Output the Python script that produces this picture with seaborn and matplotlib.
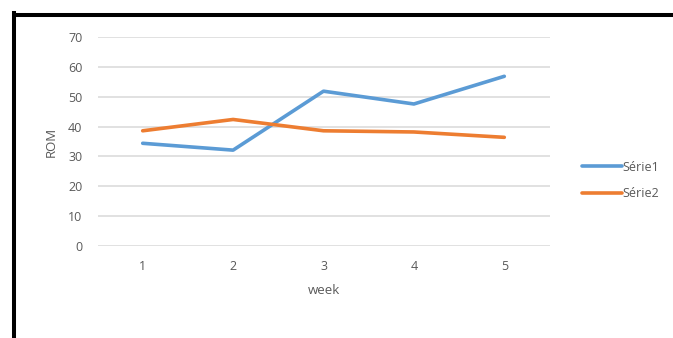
import matplotlib
matplotlib.use("Agg")
import matplotlib.pyplot as plt
from matplotlib.lines import Line2D
import seaborn as sns
import pandas as pd

weeks = [1, 2, 3, 4, 5]
serie1 = [34.4, 32.1, 51.9, 47.6, 56.9]
serie2 = [38.6, 42.4, 38.6, 38.2, 36.4]
series_names = ["Série1", "Série2"]
y_ticks = [0, 10, 20, 30, 40, 50, 60, 70]

df = pd.DataFrame({
    "week": weeks * 2,
    "ROM": serie1 + serie2,
    "serie": [series_names[0]] * 5 + [series_names[1]] * 5,
})

sns.set_theme(style="white")
plt.rcParams["font.family"] = ["Open Sans", "DejaVu Sans"]

W, H = 673, 338
fig = plt.figure(figsize=(W / 100, H / 100), dpi=100)
ax = fig.add_axes([97.5 / W, 1 - 245.7 / H, (549.5 - 97.5) / W, (245.7 - 37.3) / H])

sns.lineplot(data=df, x="week", y="ROM", hue="serie",
             palette=["#5B9BD5", "#ED7D31"], linewidth=2.6, ax=ax, legend=False)

ax.set_xlim(0.5, 5.5)
ax.set_ylim(0, 70)
ax.set_yticks(y_ticks)
ax.set_xticks(weeks)
ax.grid(axis="y", color="#D9D9D9", linewidth=1.1)
ax.set_axisbelow(True)
for s in ax.spines.values():
    s.set_visible(False)
ax.tick_params(axis="both", length=0, labelsize=9, labelcolor="#595959")
ax.tick_params(axis="y", pad=11)
ax.tick_params(axis="x", pad=10)
ax.set_xlabel("week", fontsize=9.5, color="#595959", labelpad=8)
ax.set_ylabel("ROM", fontsize=9.5, color="#595959", labelpad=7)

handles = [Line2D([0], [0], color="#5B9BD5", lw=2.6),
           Line2D([0], [0], color="#ED7D31", lw=2.6)]
fig.legend(handles, series_names, loc="center left",
           bbox_to_anchor=(571 / W, 1 - 180.5 / H), frameon=False,
           fontsize=9, labelcolor="#595959", handlelength=3.2,
           handletextpad=0.0, labelspacing=1.1)

# black frame of the screenshot (left and top edges)
fig.add_artist(Line2D([14 / W, 14 / W], [0, 1 - 13 / H], color="black",
                      lw=2.9, transform=fig.transFigure, solid_capstyle="projecting"))
fig.add_artist(Line2D([14 / W, 1], [1 - 15 / H, 1 - 15 / H], color="black",
                      lw=2.9, transform=fig.transFigure, solid_capstyle="butt"))

fig.savefig("out.png", dpi=100)
